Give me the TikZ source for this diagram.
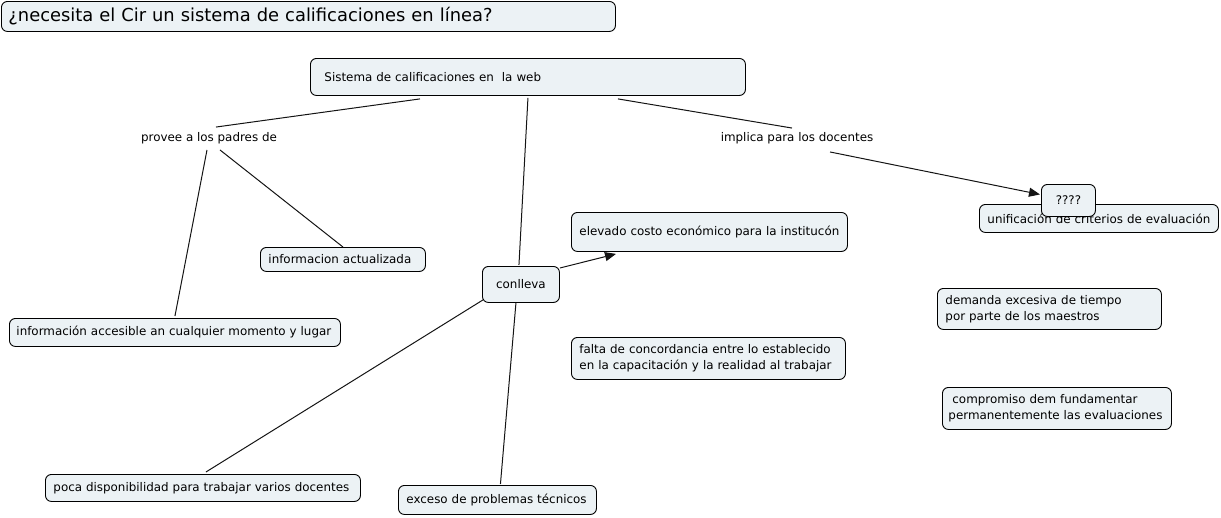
\documentclass[tikz,border=0pt]{standalone}
\usepackage{fontspec}
\setmainfont{DejaVu Sans}
\usetikzlibrary{arrows.meta,calc}
\definecolor{boxfill}{RGB}{236,242,245}
\definecolor{linecol}{RGB}{20,20,20}
\tikzset{
  cbox/.style={draw=black, line width=0.9pt, rounded corners=6pt, fill=boxfill, anchor=north west, align=left, inner ysep=0pt, font=\fontsize{11.9}{16}\selectfont},
  cboxc/.style={draw=black, line width=0.9pt, rounded corners=6pt, fill=boxfill, anchor=north west, align=center, inner sep=0pt, font=\fontsize{11.9}{16}\selectfont},
  lphrase/.style={inner sep=2pt, font=\fontsize{11.9}{16}\selectfont},
  conn/.style={draw=linecol, line width=1pt},
  arr/.style={conn, -{Triangle[length=11pt,width=9pt]}}
}
\begin{document}
\begin{tikzpicture}[x=1pt,y=-1pt]
\useasboundingbox (0,0) rectangle (1221,517);
% boxes
\node[cbox, inner xsep=7pt, text width=600pt, minimum height=30pt, font=\fontsize{17.9}{21}\selectfont] (title) at (1,1) {¿necesita el Cir un sistema de calificaciones en línea?};
\node[cbox, inner xsep=14pt, text width=407pt, minimum height=37pt] (sistema) at (310,58) {Sistema de calificaciones en\ \ la web};
\node[cbox, inner xsep=8pt, text width=223pt, minimum height=28pt] (unif) at (979,204) {unificación de criterios de evaluación};
\node[cboxc, minimum width=54pt, minimum height=32pt] (quest) at (1041,184) {????};
\node[cbox, inner xsep=8pt, text width=260pt, minimum height=39pt] (elevado) at (571,212) {elevado costo económico para la institucón};
\node[cbox, inner xsep=8pt, text width=149pt, minimum height=24pt] (infact) at (260,247) {informacion actualizada};
\node[cboxc, minimum width=77pt, minimum height=36pt] (conlleva) at (482,266) {conlleva};
\node[cbox, inner xsep=7pt, text width=317pt, minimum height=28pt] (infacc) at (9,318) {información accesible an cualquier momento y lugar};
\node[cbox, inner xsep=8pt, text width=208pt, minimum height=41pt] (demanda) at (937,288) {\mbox{demanda excesiva de tiempo}\\\mbox{por parte de los maestros}};
\node[cbox, inner xsep=8pt, text width=258pt, minimum height=42pt] (falta) at (571,337) {\mbox{falta de concordancia entre lo establecido}\\\mbox{en la capacitación y la realidad al trabajar}};
\node[cbox, inner xsep=6pt, text width=217pt, minimum height=42pt] (compromiso) at (942,387) {\mbox{\ compromiso dem fundamentar}\\\mbox{permanentemente las evaluaciones}};
\node[cbox, inner xsep=8pt, text width=299pt, minimum height=27pt] (poca) at (45,474) {poca disponibilidad para trabajar varios docentes};
\node[cbox, inner xsep=8pt, text width=182pt, minimum height=29pt] (exceso) at (398,485) {exceso de problemas técnicos};
% linking phrases
\node[lphrase] (provee) at (209,138) {provee a los padres de};
\node[lphrase] (implica) at (797,138) {implica para los docentes};
% connectors
\draw[conn] ($(sistema.south west)+(110,3)$) -- ($(provee.north)+(7,-3)$);
\draw[conn] ($(provee.south)+(11,4)$) -- (infact.north);
\draw[conn] ($(provee.south)+(-2,4)$) -- ($(infacc.north)+(0,-2)$);
\draw[conn] ($(sistema.south)+(0,2)$) -- ($(conlleva.north)+(-2,-1)$);
\draw[conn] ($(sistema.south)+(90,3)$) -- ($(implica.north)+(-5,-2)$);
\draw[arr] ($(implica.south)+(33,6)$) -- ($(quest.west)+(-1,-6)$);
\draw[arr] ($(conlleva.north east)+(0,2)$) -- ($(elevado.south west)+(45,2)$);
\draw[conn] ($(conlleva.south west)+(1,-3)$) -- ($(poca.north)+(3,-2)$);
\draw[conn] ($(conlleva.south)+(-5,0)$) -- ($(exceso.north)+(3,-1)$);
\end{tikzpicture}
\end{document}
